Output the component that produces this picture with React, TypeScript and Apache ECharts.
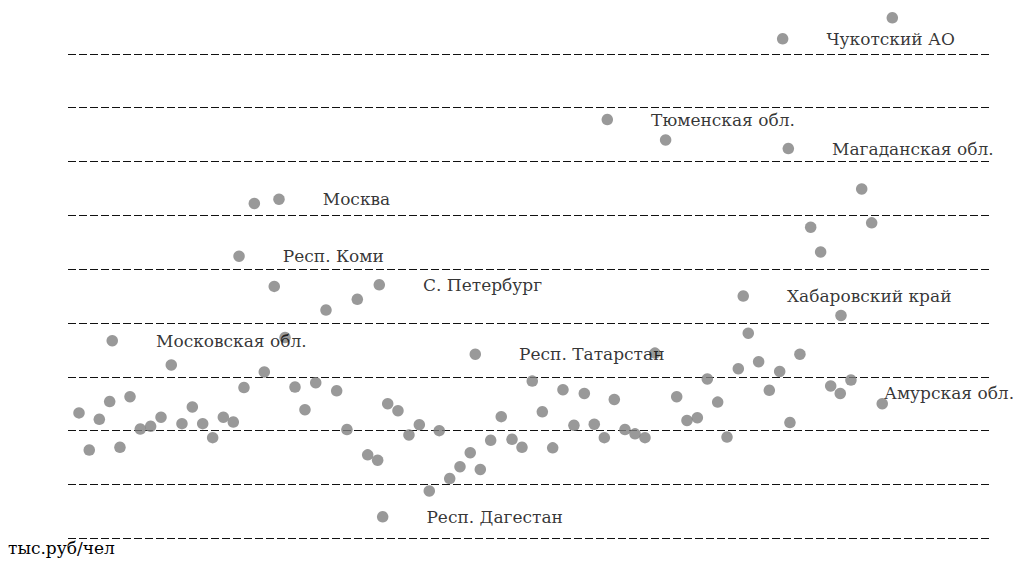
import React, { useEffect, useRef } from "react";
import * as echarts from "echarts";

// Main scatter points (position index, value in gridline units)
const xValues = [
  1.07, 2.07, 3.05, 4.06, 5.06, 6.04, 7.04, 8.05, 9.06, 10.06,
  11.1, 12.11, 13.12, 14.09, 15.13, 16.1, 17.14, 18.15, 19.12, 20.09,
  21.14, 22.11, 23.08, 24.13, 25.13, 26.17, 27.17, 28.18, 29.19, 30.16,
  31.14, 32.14, 33.21, 34.22, 35.19, 36.16, 37.18, 38.18, 39.18, 40.16,
  41.17, 42.2, 43.25, 44.22, 45.22, 46.2, 47.21, 48.21, 49.28, 50.29,
  51.26, 52.24, 53.21, 54.25, 55.23, 56.2, 57.17, 58.21, 59.29, 60.29,
  61.3, 62.27, 63.28, 64.19, 65.29, 66.26, 67.27, 68.31, 69.32, 70.32,
  71.29, 72.34, 73.31, 74.29, 75.29, 76.26, 77.31, 78.28, 79.31, 80.29,
];
const yValues = [
  23.3, 16.4, 22.1, 25.4, 16.9, 26.3, 20.3, 20.8, 22.5, 32.2,
  21.3, 24.4, 21.3, 18.7, 22.5, 21.6, 28.0, 62.2, 30.9, 46.8,
  37.3, 28.1, 23.9, 28.9, 42.4, 27.4, 20.2, 44.4, 15.5, 14.5,
  25.0, 23.7, 19.2, 21.1, 8.8, 20.0, 11.1, 13.3, 15.9, 12.8,
  18.2, 22.6, 18.4, 16.9, 29.2, 23.5, 16.8, 27.6, 21.0, 26.9,
  21.2, 18.7, 25.8, 20.2, 19.4, 18.7, 34.4, 74.0, 26.3, 21.9,
  22.4, 29.6, 25.3, 18.8, 31.5, 38.1, 32.8, 27.5, 31.0, 21.5,
  34.2, 57.8, 53.2, 28.3, 41.4, 29.4, 64.9, 58.6, 25.0, 96.7,
];

// Labeled regions
const labeledNames = [
  "Московская обл.",
  "Респ. Коми",
  "Москва",
  "С. Петербург",
  "Респ. Дагестан",
  "Респ. Татарстан",
  "Тюменская обл.",
  "Хабаровский край",
  "Чукотский АО",
  "Магаданская обл.",
  "Амурская обл.",
];
const labeledX = [4.31, 16.66, 20.55, 30.32, 30.65, 39.67, 52.53, 65.77, 69.61, 70.16, 75.22];
const labeledY = [36.7, 52.4, 63.0, 47.1, 4.0, 34.2, 77.8, 45.0, 92.8, 72.4, 26.9];

const yTicks = [0, 10, 20, 30, 40, 50, 60, 70, 80, 90, 100];
const unitLabel = "тыс.руб/чел";

const FONT = "DejaVu Serif";
const DOT = "#808080";

export default function App() {
  const ref = useRef<HTMLDivElement>(null);
  useEffect(() => {
    if (!ref.current) return;
    const chart = echarts.init(ref.current, undefined, { renderer: "svg" });
    const mainData = xValues.map((x, i) => [x, yValues[i]]);
    const labData = labeledNames.map((n, i) => ({ name: n, value: [labeledX[i], labeledY[i]] }));
    const lineColors = yTicks.map((_, i) => (i === yTicks.length - 1 ? "rgba(0,0,0,0)" : "#111"));
    chart.setOption({
      animation: false,
      backgroundColor: "#fff",
      textStyle: { fontFamily: FONT },
      grid: { left: 68, right: 24, top: 0, bottom: 27.7 },
      xAxis: {
        type: "value",
        min: 0,
        max: 90,
        show: false,
        splitLine: { show: false },
      },
      yAxis: {
        type: "value",
        min: yTicks[0],
        max: yTicks[yTicks.length - 1],
        interval: 10,
        axisLine: { show: false },
        axisTick: { show: false },
        axisLabel: { show: false },
        splitLine: { show: true, lineStyle: { color: lineColors, width: 1, type: [8, 3] } },
      },
      graphic: [
        {
          type: "text",
          left: 8,
          top: 539,
          style: { text: unitLabel, fontFamily: FONT, fontSize: 17, fill: "#000" },
        },
      ],
      series: [
        {
          type: "scatter",
          data: mainData,
          symbolSize: 11.5,
          itemStyle: { color: DOT },
          clip: false,
        },
        {
          type: "scatter",
          data: labData,
          symbolSize: 11.5,
          itemStyle: { color: DOT },
          clip: false,
          label: {
            show: true,
            position: "right",
            distance: 38,
            formatter: (p: any) => p.name,
            color: "#000",
            fontFamily: FONT,
            fontSize: 17,
          },
        },
      ],
    });
    return () => chart.dispose();
  }, []);
  return (
    <div
      ref={ref}
      style={{ position: "fixed", left: 0, top: 0, width: 1016, height: 566, background: "#fff" }}
    />
  );
}
